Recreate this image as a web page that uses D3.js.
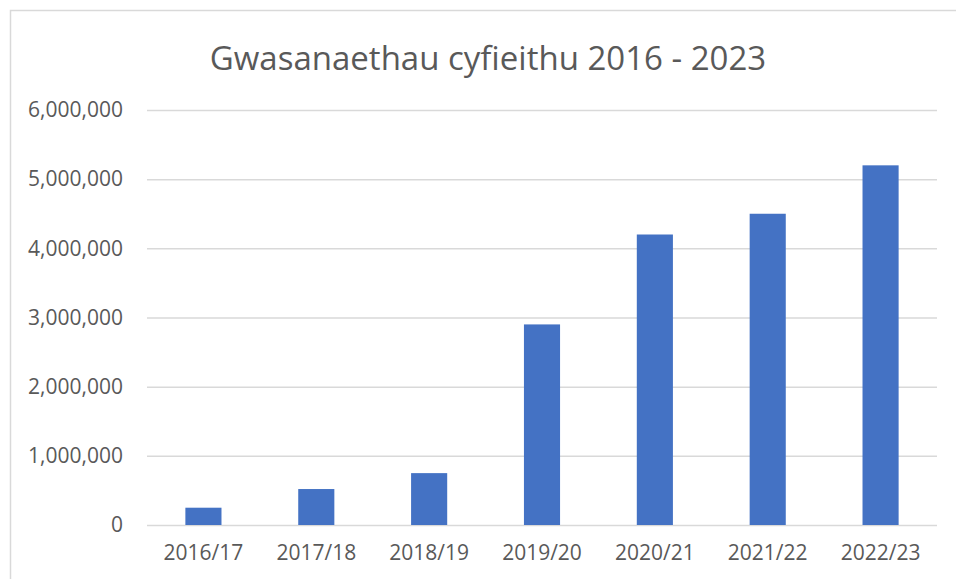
<!DOCTYPE html>
<html>
<head>
<meta charset="utf-8">
<script src="https://cdn.jsdelivr.net/npm/d3@7"></script>
<style>
  body { margin: 0; background: #fff; }
  text { font-family: "Open Sans", "Noto Sans", sans-serif; fill: #595959; }
</style>
</head>
<body>
<svg id="chart" width="956" height="579"></svg>
<script>
// data
var years = ["2016/17", "2017/18", "2018/19", "2019/20", "2020/21", "2021/22", "2022/23"];
var values = [250000, 520000, 750000, 2900000, 4200000, 4500000, 5200000];
var yTicks = [0, 1000000, 2000000, 3000000, 4000000, 5000000, 6000000];

var svg = d3.select("#chart");

// chart frame, runs off the right/bottom of the picture
svg.append("rect")
        .attr("x", 10.5)
        .attr("y", 10.5)
        .attr("width", 960)
        .attr("height", 600)
        .style("fill", "none")
        .style("stroke", "#d9d9d9")
        .style("stroke-width", "1.5px");

var x = d3.scaleBand()
        .domain(years)
        .range([147, 937])
        .paddingInner(0.68)
        .paddingOuter(0.34);

var y = d3.scaleLinear()
        .domain([0, 6000000])
        .range([525, 110]);

// gridlines + y labels
var yAxis = d3.axisLeft(y)
        .tickValues(yTicks)
        .tickSize(-(937 - 147))
        .tickPadding(24)
        .tickFormat(d3.format(","));

var gy = svg.append("g")
        .attr("transform", "translate(147,0)")
        .call(yAxis);
gy.select(".domain").remove();
gy.selectAll(".tick line")
        .style("stroke", "#d9d9d9")
        .style("stroke-width", "1.5px");
gy.selectAll(".tick text")
        .style("font-size", "21px")
        .attr("font-family", null);

// bars
svg.append("g").selectAll("rect")
        .data(values)
        .enter()
        .append("rect")
        .attr("x", function(d, i) { return x(years[i]); })
        .attr("y", function(d) { return y(d); })
        .attr("width", x.bandwidth())
        .attr("height", function(d) { return y(0) - y(d); })
        .style("fill", "#4472c4");

// x labels
var xAxis = d3.axisBottom(x).tickSize(0).tickPadding(20);
var gx = svg.append("g")
        .attr("transform", "translate(0,525)")
        .call(xAxis);
gx.select(".domain").remove();
gx.selectAll(".tick text")
        .style("font-size", "21px")
        .attr("font-family", null);

// title
svg.append("text")
        .attr("x", 488)
        .attr("y", 70)
        .attr("text-anchor", "middle")
        .style("font-size", "33px")
        .text("Gwasanaethau cyfieithu 2016 - 2023");
</script>
</body>
</html>
